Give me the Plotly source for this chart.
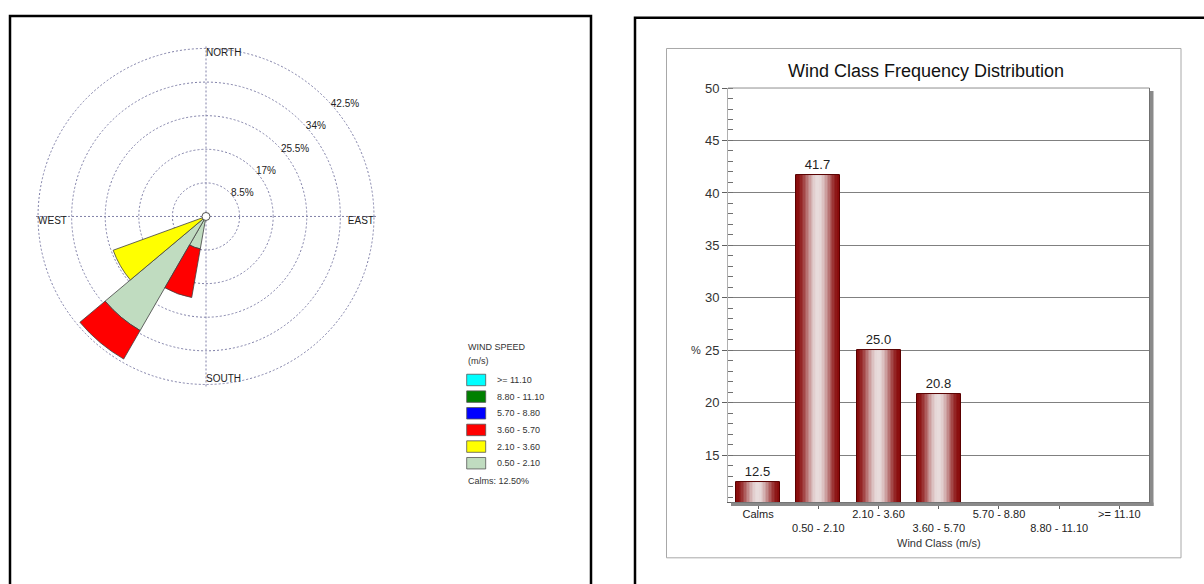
import math
import plotly.graph_objects as go

# ---------------- data ----------------
rose_dirs = [200, 220, 240]                      # sector centres (deg, clockwise from north)
speed_classes = ["0.50 - 2.10", "2.10 - 3.60", "3.60 - 5.70", "5.70 - 8.80", "8.80 - 11.10", ">= 11.10"]
speed_colors = ["#c0dcc0", "#ffff00", "#ff0000", "#0000ff", "#008000", "#00ffff"]
rose_0_50_2_10 = [8.33, 33.33, 0.0]
rose_2_10_3_60 = [0.0, 0.0, 25.0]
rose_3_60_5_70 = [12.5, 8.33, 0.0]
rose_5_70_8_80 = [0.0, 0.0, 0.0]
rose_8_80_11_10 = [0.0, 0.0, 0.0]
rose_ge_11_10 = [0.0, 0.0, 0.0]
rose_values = [rose_0_50_2_10, rose_2_10_3_60, rose_3_60_5_70, rose_5_70_8_80, rose_8_80_11_10, rose_ge_11_10]
radial_ticks = [8.5, 17, 25.5, 34, 42.5]
compass_labels = ["NORTH", "EAST", "SOUTH", "WEST"]
compass_theta = [0, 90, 180, 270]
calms_pct = 12.5

wind_classes = ["Calms", "0.50 - 2.10", "2.10 - 3.60", "3.60 - 5.70", "5.70 - 8.80", "8.80 - 11.10", ">= 11.10"]
class_freq = [12.5, 41.7, 25.0, 20.8, 0.0, 0.0, 0.0]
y_ticks = [15, 20, 25, 30, 35, 40, 45, 50]

FONT = "Arial, Liberation Sans, sans-serif"
W, H = 1204, 584


def px(x):
    return x / W


def py(y):
    return 1 - y / H


fig = go.Figure()

# ---------------- wind rose ----------------
for name, col, vals in zip(speed_classes, speed_colors, rose_values):
    fig.add_trace(go.Barpolar(
        r=vals, theta=rose_dirs, width=[20] * len(rose_dirs), name=name,
        marker=dict(color=col, line=dict(color="#404040", width=0.8)),
        subplot="polar", showlegend=False))

# compass labels (inside the outer ring)
fig.add_trace(go.Scatterpolar(
    r=[radial_ticks[-1]] * len(compass_theta), theta=compass_theta, mode="text",
    text=compass_labels, textposition=["bottom right", "bottom left", "top right", "bottom right"],
    textfont=dict(size=10, color="#222", family=FONT), showlegend=False, cliponaxis=False,
    subplot="polar", hoverinfo="skip"))
# ring labels
fig.add_trace(go.Scatterpolar(
    r=radial_ticks, theta=[48] * len(radial_ticks), mode="text",
    text=[f"{v:g}%" for v in radial_ticks], textposition="middle right",
    textfont=dict(size=10, color="#222", family=FONT), showlegend=False, cliponaxis=False,
    subplot="polar", hoverinfo="skip"))
# centre circle
fig.add_trace(go.Scatterpolar(
    r=[0], theta=[0], mode="markers",
    marker=dict(size=8, color="white", line=dict(color="#555", width=1)),
    showlegend=False, cliponaxis=False, subplot="polar", hoverinfo="skip"))

# outer ring (42.5 %) has radius 170 px around (206, 212); range extended so that ring is drawn
r_max = 43.5
R = 170 * r_max / radial_ticks[-1]
cx, cy = 206, 212
grid_col = "#8080a8"
fig.update_layout(polar=dict(
    domain=dict(x=[px(cx - R), px(cx + R)], y=[py(cy + R), py(cy - R)]),
    bgcolor="white", barmode="stack",
    radialaxis=dict(range=[0, r_max], tickvals=radial_ticks, showticklabels=False,
                    showline=False, ticks="", gridcolor=grid_col, griddash="2px,2px", gridwidth=1),
    angularaxis=dict(rotation=90, direction="clockwise", tickvals=compass_theta,
                     showticklabels=False, ticks="", showline=False, showgrid=True,
                     gridcolor=grid_col, griddash="2px,2px", gridwidth=1),
))

# ---------------- bar chart ----------------
bar_w = 0.73
n_slices = 30
dark = (136, 10, 10)
light = (232, 220, 220)
for i in range(n_slices):
    t = (i + 0.5) / n_slices
    w = math.sin(math.pi * t) ** 2
    c = tuple(int(round(d + (l - d) * w)) for d, l in zip(dark, light))
    fig.add_trace(go.Bar(
        x=wind_classes, y=class_freq, width=bar_w / n_slices,
        offset=-bar_w / 2 + i * bar_w / n_slices,
        marker=dict(color=f"rgb{c}", line=dict(width=0)),
        showlegend=False, hoverinfo="skip", xaxis="x", yaxis="y"))
fig.add_trace(go.Bar(
    x=wind_classes, y=class_freq, width=bar_w, offset=-bar_w / 2,
    marker=dict(color="rgba(0,0,0,0)", line=dict(color="#5a0000", width=1)),
    text=[f"{v:.1f}" if v > 0 else "" for v in class_freq], textposition="outside",
    textfont=dict(size=13, color="#222", family=FONT), cliponaxis=False,
    showlegend=False, xaxis="x", yaxis="y"))

fig.update_layout(
    barmode="overlay", bargap=0,
    xaxis=dict(domain=[px(728), px(1149.5)], type="category", categoryorder="array",
               categoryarray=wind_classes, tickvals=wind_classes,
               ticktext=[c if i % 2 == 0 else "<br>" + c for i, c in enumerate(wind_classes)],
               tickangle=0, ticks="outside", ticklen=6, tickcolor="#606060", showline=True,
               linecolor="#606060", tickfont=dict(size=11, color="#222", family=FONT),
               ticklabelstandoff=-4, showgrid=False, anchor="y"),
    xaxis2=dict(overlaying="x", type="linear", range=[-0.5, len(wind_classes) - 0.5],
                tickvals=list(range(len(wind_classes))), showticklabels=False,
                ticks="inside", ticklen=7, tickcolor="#606060", showgrid=False, anchor="y",
                side="bottom", zeroline=False),
    yaxis=dict(domain=[py(501), py(82)], range=[10.55, 50], tickvals=y_ticks,
               ticks="outside", ticklen=5, tickcolor="#606060", showline=True, linecolor="#b0b0b0",
               showgrid=True, gridcolor="#808080", gridwidth=1, zeroline=False,
               tickfont=dict(size=13, color="#333", family=FONT),
               minor=dict(dtick=1, ticks="inside", ticklen=5, tickcolor="#707070", showgrid=False)),
)

shapes = [
    # panel frames
    dict(type="rect", xref="paper", yref="paper", x0=px(10), x1=px(591), y0=py(590), y1=py(9),
         line=dict(color="black", width=2.5)),
    dict(type="rect", xref="paper", yref="paper", x0=px(635), x1=px(1212), y0=py(590), y1=py(11),
         line=dict(color="black", width=2.5)),
    # inner grey frame of bar chart
    dict(type="rect", xref="paper", yref="paper", x0=px(666.5), x1=px(1181), y0=py(557.5), y1=py(42),
         line=dict(color="#a8a8a8", width=1)),
    # plot area top border
    dict(type="line", xref="paper", yref="paper", x0=px(728), x1=px(1149.5), y0=py(82), y1=py(82),
         line=dict(color="#909090", width=1)),
    # right border + shadow
    dict(type="line", xref="paper", yref="paper", x0=px(1149.5), x1=px(1149.5), y0=py(501), y1=py(82),
         line=dict(color="#707070", width=1)),
    dict(type="rect", xref="paper", yref="paper", x0=px(1150), x1=px(1153.5), y0=py(505), y1=py(85),
         fillcolor="#8a8a8a", line=dict(width=0)),
    dict(type="rect", xref="paper", yref="paper", x0=px(731), x1=px(1153.5), y0=py(505), y1=py(501.5),
         fillcolor="#8a8a8a", line=dict(width=0)),
]

annotations = [
    dict(text="Wind Class Frequency Distribution", x=px(926), y=py(65), xanchor="center",
         yanchor="middle", font=dict(size=18, color="#111", family=FONT)),
    dict(text="%", x=px(696), y=py(347.5), xanchor="center", yanchor="middle",
         font=dict(size=11, color="#333", family=FONT)),
    dict(text="Wind Class (m/s)", x=px(939), y=py(542), xanchor="center", yanchor="middle",
         font=dict(size=11, color="#333", family=FONT)),
    # wind-rose legend
    dict(text="WIND SPEED", x=px(466), y=py(344), xanchor="left", yanchor="middle",
         font=dict(size=9, color="#333", family=FONT)),
    dict(text="(m/s)", x=px(466), y=py(358.3), xanchor="left", yanchor="middle",
         font=dict(size=9, color="#333", family=FONT)),
    dict(text=f"Calms: {calms_pct:.2f}%", x=px(466), y=py(479.3), xanchor="left", yanchor="middle",
         font=dict(size=9, color="#333", family=FONT)),
]

row0, row_step = 377.5, 16.85
for k, (name, col) in enumerate(zip(speed_classes[::-1], speed_colors[::-1])):
    yc = row0 + k * row_step
    shapes.append(dict(type="rect", xref="paper", yref="paper", x0=px(466.7), x1=px(485.7),
                       y0=py(yc + 5.8), y1=py(yc - 5.8), fillcolor=col,
                       line=dict(color="#555", width=0.8)))
    annotations.append(dict(text=name, x=px(495), y=py(yc), xanchor="left", yanchor="middle",
                            font=dict(size=9, color="#333", family=FONT)))

for a in annotations:
    a.update(xref="paper", yref="paper", showarrow=False)

fig.update_layout(
    width=W, height=H, margin=dict(l=0, r=0, t=0, b=0),
    paper_bgcolor="white", plot_bgcolor="white",
    font=dict(family=FONT, color="#222"),
    shapes=shapes, annotations=annotations, showlegend=False,
)

fig.write_html("out.html", config={"displayModeBar": False},
               post_script="document.body.style.margin='0px';document.body.style.overflow='hidden';")
